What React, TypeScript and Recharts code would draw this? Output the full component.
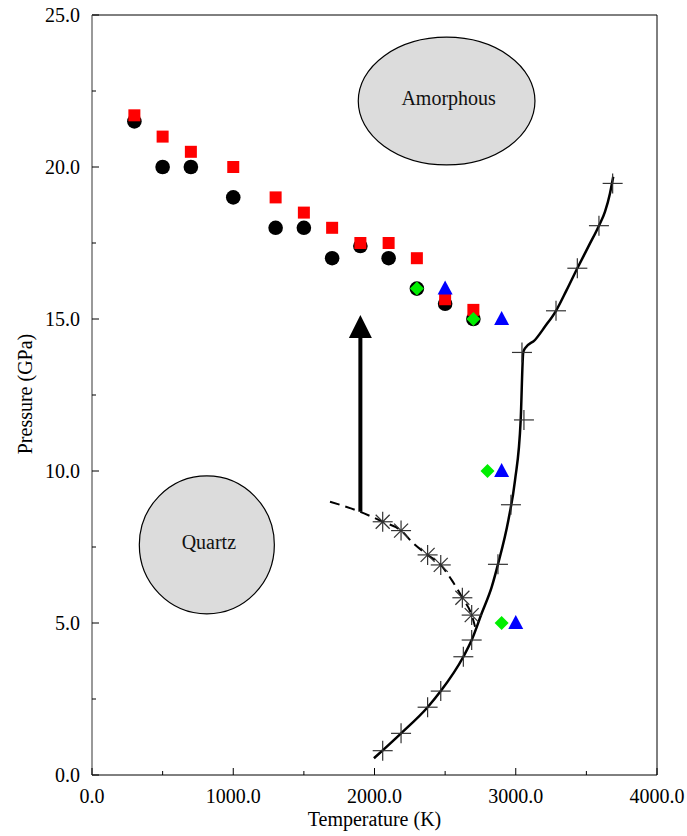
import React from "react";
import { ComposedChart, Scatter, XAxis, YAxis, ReferenceArea, Label } from "recharts";

// ---- data (T in K, P in GPa) ----
const circleT = [300, 500, 700, 1000, 1300, 1500, 1700, 1900, 2100, 2300, 2500, 2700];
const circleP = [21.5, 20.0, 20.0, 19.0, 18.0, 18.0, 17.0, 17.4, 17.0, 16.0, 15.5, 15.0];

const squareT = [300, 500, 700, 1000, 1300, 1500, 1700, 1900, 2100, 2300, 2500, 2700];
const squareP = [21.7, 21.0, 20.5, 20.0, 19.0, 18.5, 18.0, 17.5, 17.5, 17.0, 15.65, 15.3];

const diamondT = [2300, 2700, 2800, 2900];
const diamondP = [16.0, 15.0, 10.0, 5.0];

const triangleT = [2500, 2900, 2900, 3000];
const triangleP = [16.0, 15.0, 10.0, 5.0];

// melting curve (solid) and its "+" points
const meltLineT = [1996, 2188, 2376, 2469, 2629, 2688, 2759, 2830, 2874, 2948, 2995, 3035, 3053, 3065, 3136, 3207, 3285, 3360, 3436, 3514, 3589, 3632, 3667, 3690];
const meltLineP = [0.55, 1.37, 2.23, 2.76, 3.89, 4.44, 5.32, 6.19, 6.93, 8.39, 9.7, 11.68, 13.9, 14.03, 14.31, 14.75, 15.27, 15.95, 16.67, 17.38, 18.07, 18.53, 19.13, 19.68];
const plusT = [2058, 2188, 2376, 2469, 2629, 2688, 2874, 2966, 3058, 3044, 3285, 3436, 3589, 3686];
const plusP = [0.8, 1.37, 2.23, 2.76, 3.89, 4.44, 6.93, 8.89, 11.68, 13.9, 15.27, 16.67, 18.07, 19.46];

// dashed boundary and its "*" points
const dashLineT = [1685, 1897, 2058, 2188, 2275, 2376, 2469, 2547, 2622, 2688, 2712];
const dashLineP = [8.99, 8.66, 8.33, 8.04, 7.62, 7.24, 6.91, 6.41, 5.83, 5.26, 4.88];
const starT = [2058, 2188, 2376, 2469, 2622, 2688];
const starP = [8.33, 8.04, 7.24, 6.91, 5.83, 5.26];

// arrow: shaft start/end and head tip
const arrowT = [1900, 1900];
const arrowP = [8.66, 14.4];
const arrowTipT = [1900];
const arrowTipP = [15.13];

// phase regions (bounding boxes of the ellipses)
const amorphousBox = { t: [1885, 3136], p: [20.07, 24.27] };
const quartzBox = { t: [335, 1291], p: [5.3, 9.84] };

const xTicks = [0, 500, 1000, 1500, 2000, 2500, 3000, 3500, 4000];
const yTicks = [0, 2.5, 5, 7.5, 10, 12.5, 15, 17.5, 20, 22.5, 25];

const FONT = '"Liberation Serif", "Times New Roman", serif';

const pts = (t: number[], p: number[]) => t.map((v, i) => ({ t: v, p: p[i] }));

const isMajor = (v: number, step: number) => Math.abs(v / step - Math.round(v / step)) < 1e-6;

const LeftTick = (props: any) => {
  const { x, y, payload } = props;
  const ax = x + 12;
  const major = isMajor(payload.value, 5);
  return (
    <g>
      <line x1={ax} x2={ax + (major ? 7 : 4)} y1={y} y2={y} stroke="#000" />
      {major && (
        <text x={x} y={y} dy="0.35em" textAnchor="end" fontSize={20} fontFamily={FONT} fill="#000">
          {payload.value.toFixed(1)}
        </text>
      )}
    </g>
  );
};

const RightTick = (props: any) => {
  const { x, y, payload } = props;
  const major = isMajor(payload.value, 5);
  return <line x1={x} x2={x - (major ? 7 : 4)} y1={y} y2={y} stroke="#000" />;
};

const BottomTick = (props: any) => {
  const { x, y, payload } = props;
  const ay = y - 14;
  const major = isMajor(payload.value, 1000);
  return (
    <g>
      <line x1={x} x2={x} y1={ay} y2={ay - (major ? 7 : 4)} stroke="#000" />
      {major && (
        <text x={x} y={y} dy="0.71em" textAnchor="middle" fontSize={20} fontFamily={FONT} fill="#000">
          {payload.value.toFixed(1)}
        </text>
      )}
    </g>
  );
};

const TopTick = (props: any) => {
  const { x, y, payload } = props;
  const major = isMajor(payload.value, 1000);
  return <line x1={x} x2={x} y1={y} y2={y + (major ? 7 : 4)} stroke="#000" />;
};

const bubble = (label: string) => (props: any) => {
  const { x, y, width, height } = props;
  const cx = x + width / 2;
  const cy = y + height / 2;
  return (
    <g>
      <ellipse cx={cx} cy={cy} rx={Math.abs(width) / 2} ry={Math.abs(height) / 2} fill="#dcdcdc" stroke="#000" strokeWidth={1.2} />
      <text x={cx + 2} y={cy + 4} textAnchor="middle" fontSize={20} fontFamily={FONT} fill="#111">
        {label}
      </text>
    </g>
  );
};

const CircleMark = (p: any) => <circle cx={p.cx} cy={p.cy} r={7.3} fill="#000" />;
const SquareMark = (p: any) => <rect x={p.cx - 6} y={p.cy - 6} width={12} height={12} fill="#ff0000" />;
const DiamondMark = (p: any) => (
  <polygon points={`${p.cx},${p.cy - 7} ${p.cx + 7},${p.cy} ${p.cx},${p.cy + 7} ${p.cx - 7},${p.cy}`} fill="#00ee00" />
);
const TriangleMark = (p: any) => (
  <polygon points={`${p.cx},${p.cy - 8} ${p.cx + 7.5},${p.cy + 6} ${p.cx - 7.5},${p.cy + 6}`} fill="#0000ff" />
);
const PlusMark = (p: any) => (
  <g stroke="#333" strokeWidth={1.2}>
    <line x1={p.cx - 10} x2={p.cx + 10} y1={p.cy} y2={p.cy} />
    <line x1={p.cx} x2={p.cx} y1={p.cy - 10} y2={p.cy + 10} />
  </g>
);
const StarMark = (p: any) => (
  <g stroke="#333" strokeWidth={1.2}>
    <line x1={p.cx - 10} x2={p.cx + 10} y1={p.cy} y2={p.cy} />
    <line x1={p.cx} x2={p.cx} y1={p.cy - 10} y2={p.cy + 10} />
    <line x1={p.cx - 7} x2={p.cx + 7} y1={p.cy - 7} y2={p.cy + 7} />
    <line x1={p.cx - 7} x2={p.cx + 7} y1={p.cy + 7} y2={p.cy - 7} />
  </g>
);
const ArrowHead = (p: any) => (
  <polygon points={`${p.cx},${p.cy} ${p.cx + 11.5},${p.cy + 23} ${p.cx - 11.5},${p.cy + 23}`} fill="#000" />
);
const NoMark = () => <g />;

export default function App() {
  return (
    <div style={{ position: "absolute", left: 0, top: 0, width: 687, height: 836, background: "#fff" }}>
      <ComposedChart width={687} height={836} margin={{ top: 14, right: 29, bottom: 21, left: 32 }}>
        <XAxis
          type="number"
          dataKey="t"
          domain={[0, 4000]}
          ticks={xTicks}
          interval={0}
          height={40}
          tickSize={0}
          tickMargin={14}
          tickLine={false}
          axisLine={{ stroke: "#000" }}
          tick={<BottomTick />}
        >
          <Label
            content={() => (
              <text x={374.5} y={826} textAnchor="middle" fontSize={20} fontFamily={FONT} fill="#000">
                Temperature (K)
              </text>
            )}
          />
        </XAxis>
        <XAxis
          xAxisId="top"
          orientation="top"
          type="number"
          dataKey="t"
          domain={[0, 4000]}
          ticks={xTicks}
          interval={0}
          height={1}
          tickSize={0}
          tickMargin={0}
          tickLine={false}
          axisLine={{ stroke: "#000" }}
          tick={<TopTick />}
        />
        <YAxis
          type="number"
          dataKey="p"
          domain={[0, 25]}
          ticks={yTicks}
          interval={0}
          width={60}
          tickSize={0}
          tickMargin={12}
          tickLine={false}
          axisLine={{ stroke: "#777", strokeWidth: 1.5 }}
          tick={<LeftTick />}
        >
          <Label
            content={() => (
              <text x={32} y={394} transform="rotate(-90 32 394)" textAnchor="middle" fontSize={20} fontFamily={FONT} fill="#000">
                Pressure (GPa)
              </text>
            )}
          />
        </YAxis>
        <YAxis
          yAxisId="right"
          orientation="right"
          type="number"
          dataKey="p"
          domain={[0, 25]}
          ticks={yTicks}
          interval={0}
          width={1}
          tickSize={0}
          tickMargin={0}
          tickLine={false}
          axisLine={{ stroke: "#000" }}
          tick={<RightTick />}
        />

        <ReferenceArea
          x1={amorphousBox.t[0]}
          x2={amorphousBox.t[1]}
          y1={amorphousBox.p[0]}
          y2={amorphousBox.p[1]}
          shape={bubble("Amorphous")}
        />
        <ReferenceArea
          x1={quartzBox.t[0]}
          x2={quartzBox.t[1]}
          y1={quartzBox.p[0]}
          y2={quartzBox.p[1]}
          shape={bubble("Quartz")}
        />

        <Scatter
          data={pts(meltLineT, meltLineP)}
          line={{ stroke: "#000", strokeWidth: 2.5 }}
          lineType="joint"
          lineJointType="monotoneX"
          shape={NoMark}
          isAnimationActive={false}
        />
        <Scatter
          data={pts(dashLineT, dashLineP)}
          line={{ stroke: "#000", strokeWidth: 2, strokeDasharray: "10 6" }}
          lineType="joint"
          lineJointType="monotoneX"
          shape={NoMark}
          isAnimationActive={false}
        />
        <Scatter
          data={pts(arrowT, arrowP)}
          line={{ stroke: "#000", strokeWidth: 4 }}
          lineType="joint"
          shape={NoMark}
          isAnimationActive={false}
        />
        <Scatter data={pts(arrowTipT, arrowTipP)} shape={ArrowHead} isAnimationActive={false} />
        <Scatter data={pts(plusT, plusP)} shape={PlusMark} isAnimationActive={false} />
        <Scatter data={pts(starT, starP)} shape={StarMark} isAnimationActive={false} />

        <Scatter data={pts(circleT, circleP)} shape={CircleMark} isAnimationActive={false} />
        <Scatter data={pts(squareT, squareP)} shape={SquareMark} isAnimationActive={false} />
        <Scatter data={pts(diamondT, diamondP)} shape={DiamondMark} isAnimationActive={false} />
        <Scatter data={pts(triangleT, triangleP)} shape={TriangleMark} isAnimationActive={false} />
      </ComposedChart>
    </div>
  );
}
